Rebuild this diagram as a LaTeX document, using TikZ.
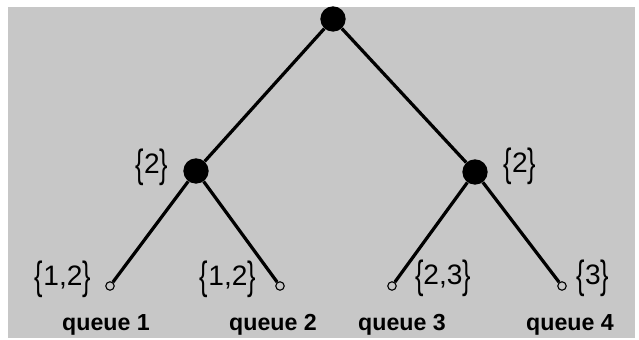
\documentclass[tikz,border=0pt]{standalone}
\usepackage{fontspec}
\setmainfont{Liberation Sans}
\newcommand{\tallbr}[1]{\raisebox{-0.12em}{\scalebox{0.9}[1.4]{\{}}#1\raisebox{-0.12em}{\scalebox{0.9}[1.4]{\}}}}
\begin{document}
\begin{tikzpicture}[
		x=0.025cm, y=-0.025cm,
		n/.style = {circle, fill=black, inner sep=0pt, minimum size=18},
		q/.style = {circle, draw=black, fill=black!22, thick, inner sep=0pt, minimum size=6},
		e/.style = {line width=2.3pt},
		set/.style = {font=\fontsize{20}{20}\selectfont, inner sep=0pt},
		lbl/.style = {font=\fontsize{16.5}{16.5}\selectfont\bfseries, inner sep=0pt}
		]
		
		% === === Background === ===
		\useasboundingbox (0, 0) rectangle (639, 340);
		\fill[black!22] (8, 7) rectangle (635, 338);
		
		% === === Nodes === ===
		\node[n]	(root)	at	(333, 19)		{};
		\node[n]	(m1)	at	(196, 171)		{};
		\node[n]	(m2)	at	(475, 172)		{};
		\node[q]	(q1)	at	(110, 286)		{};
		\node[q]	(q2)	at	(280, 286)		{};
		\node[q]	(q3)	at	(392, 286)		{};
		\node[q]	(q4)	at	(562, 286)		{};
		
		\node[set]	(s-m1)	at	(152, 167)		{\tallbr{2}};
		\node[set]	(s-m2)	at	(520, 166)		{\tallbr{2}};
		\node[set]	(s-q1)	at	(63, 279)		{\tallbr{1,2}};
		\node[set]	(s-q2)	at	(228, 279)		{\tallbr{1,2}};
		\node[set]	(s-q3)	at	(443, 278)		{\tallbr{2,3}};
		\node[set]	(s-q4)	at	(593, 278)		{\tallbr{3}};
		
		\node[lbl]	(l1)	at	(106, 325)		{queue 1};
		\node[lbl]	(l2)	at	(273, 325)		{queue 2};
		\node[lbl]	(l3)	at	(402, 325)		{queue 3};
		\node[lbl]	(l4)	at	(570, 325)		{queue 4};
		
		% === === Lines === ===
		\draw[e]	(root)	--	(m1);
		\draw[e]	(root)	--	(m2);
		\draw[e]	(m1)	--	(q1);
		\draw[e]	(m1)	--	(q2);
		\draw[e]	(m2)	--	(q3);
		\draw[e]	(m2)	--	(q4);
		
	\end{tikzpicture}
\end{document}
